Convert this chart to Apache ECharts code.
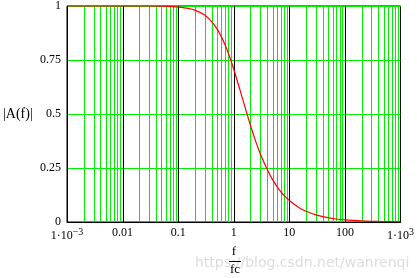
<!DOCTYPE html>
<html><head><meta charset="utf-8">
<script src="https://cdn.jsdelivr.net/npm/echarts@6/dist/echarts.min.js"></script>
<style>html,body{margin:0;padding:0;background:#fff}#c{width:417px;height:278px}</style>
</head><body><div id="c"></div>
<script>
// ratio f/fc
const freqRatio = [0.001,0.01,0.03,0.05,0.08,0.1,0.15,0.2,0.3,0.4,0.5,0.6,0.7,0.8,0.9,1,1.2,1.5,2,2.5,3,4,5,6,7,8,10,15,20,30,50,70,100,200,300,500,1000];
// |A(f)|
const amplitude = [1,1,1,0.999,0.997,0.995,0.989,0.981,0.958,0.928,0.894,0.857,0.819,0.781,0.743,0.707,0.640,0.555,0.447,0.371,0.316,0.243,0.196,0.164,0.141,0.124,0.0995,0.0665,0.05,0.033,0.02,0.014,0.01,0.005,0.0033,0.002,0.001];
const decades = [0.001,0.01,0.1,1,10,100,1000];
const xTickLabels = {'0.001':'{a|1·10}{s|−3}','0.01':'{a|0.01}','0.1':'{a|0.1}','1':'{a|1}','10':'{a|10}','100':'{a|100}','1000':'{a|1·10}{s|3}'};
const minorMultipliers = [2,3,4,5,6,7,8,9];

const minorX = [];
for (let i = 0; i < decades.length - 1; i++) for (const m of minorMultipliers) minorX.push(decades[i]*m);
const majorX = decades.slice(1, -1);

// one path element per set of grid lines, positioned through the axis scale
function gridPath(xs, color){
  return function(params, api){
    let d = '';
    for (const v of xs) {
      const p0 = api.coord([v, 0]);
      const p1 = api.coord([v, 1]);
      const x = Math.round(p0[0]) + 0.5;
      d += 'M' + x + ' ' + p0[1] + 'L' + x + ' ' + p1[1];
    }
    return {type:'path',shape:{pathData:d},style:{stroke:color,lineWidth:1,fill:null},silent:true};
  };
}

const chart = echarts.init(document.getElementById('c'), null, {renderer:'canvas'});
const serif = '"Liberation Serif","DejaVu Serif",serif';
chart.setOption({
  animation:false,
  grid:{left:67,right:16,top:6,bottom:56,show:true,borderColor:'#000',borderWidth:1,backgroundColor:'transparent'},
  xAxis:{type:'log',logBase:10,min:0.001,max:1000,splitNumber:6,
    axisLine:{show:true,lineStyle:{color:'#000',width:1}},
    axisTick:{show:false},splitLine:{show:false},minorTick:{show:false},minorSplitLine:{show:false},
    axisLabel:{margin:5,fontFamily:serif,fontSize:12,color:'#000',
      formatter:v=>{const k=String(+v.toPrecision(6));return xTickLabels[k]||'';},
      rich:{a:{fontFamily:serif,fontSize:12,color:'#000'},s:{fontFamily:serif,fontSize:10,color:'#000',padding:[0,0,8,0]}}}},
  yAxis:{type:'value',min:0,max:1,interval:0.25,
    axisLine:{show:true,lineStyle:{color:'#000'}},axisTick:{show:false},
    splitLine:{show:true,lineStyle:{color:'#00ee00',width:1}},minorSplitLine:{show:false},
    axisLabel:{margin:6,fontFamily:serif,fontSize:12,color:'#000'}},
  series:[
    {type:'custom',z:2,silent:true,data:[[0.001,0]],renderItem:gridPath(minorX,'#00ee00'),clip:false},
    {type:'custom',z:3,silent:true,data:[[0.001,0]],renderItem:gridPath(majorX,'#000000'),clip:false},
    {type:'line',z:5,data:freqRatio.map((f,i)=>[f,amplitude[i]]),showSymbol:false,smooth:0.3,
     lineStyle:{color:'#ff0000',width:1.2},itemStyle:{color:'#ff0000'}}
  ],
  graphic:[
    {type:'text',left:3,top:107,style:{text:'|A(f)|',font:'14px '+serif,fill:'#000'}},
    {type:'text',x:234,y:252,style:{text:'f',font:'13px '+serif,fill:'#000',textAlign:'center',textVerticalAlign:'middle'}},
    {type:'rect',shape:{x:229,y:261,width:12,height:1},style:{fill:'#000'}},
    {type:'text',x:235,y:270,style:{text:'fc',font:'13px '+serif,fill:'#000',textAlign:'center',textVerticalAlign:'middle'}},
    {type:'text',x:195,y:263,z:-1,style:{text:'https://blog.csdn.net/wanrenqi',font:'14px "DejaVu Sans",sans-serif',fill:'#dcdcdc',textVerticalAlign:'middle'}}
  ]
});
</script></body></html>
